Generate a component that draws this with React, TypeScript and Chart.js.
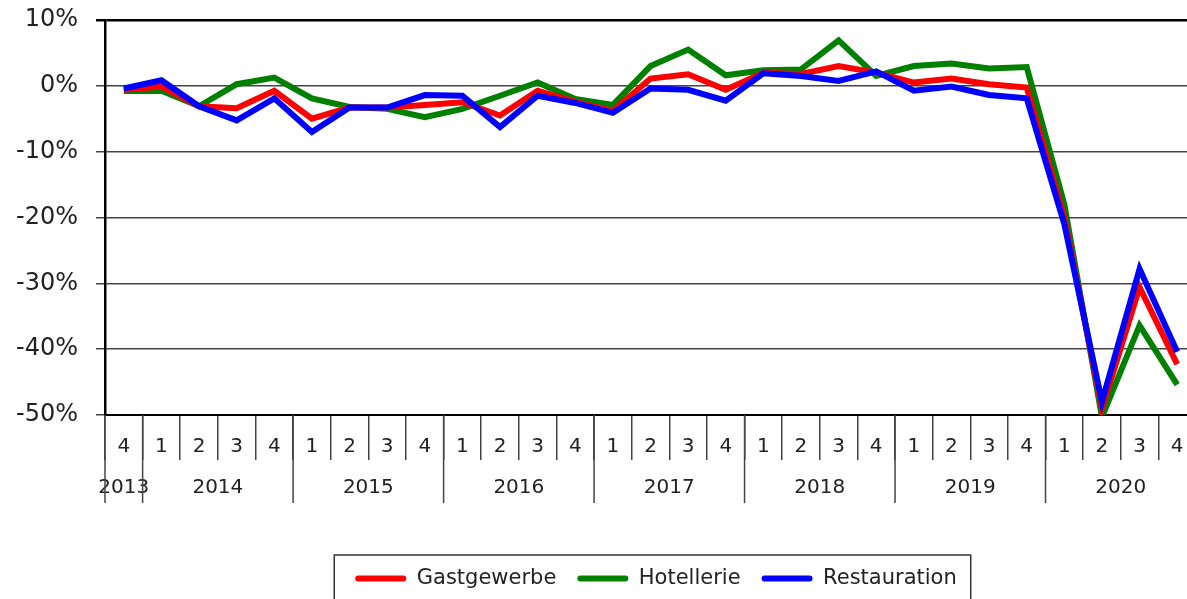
import React, { useEffect, useRef } from 'react';
import { Chart, registerables } from 'chart.js';

Chart.register(...registerables);

const quarters = ['4', '1', '2', '3', '4', '1', '2', '3', '4', '1', '2', '3', '4', '1', '2', '3', '4', '1', '2', '3', '4', '1', '2', '3', '4', '1', '2', '3', '4'];
const years = ['2013', '2014', '2014', '2014', '2014', '2015', '2015', '2015', '2015', '2016', '2016', '2016', '2016', '2017', '2017', '2017', '2017', '2018', '2018', '2018', '2018', '2019', '2019', '2019', '2019', '2020', '2020', '2020', '2020'];

const gastgewerbe = [-0.6, -0.1, -3.1, -3.4, -0.75, -5.0, -3.3, -3.3, -2.9, -2.5, -4.5, -0.75, -2.4, -3.8, 1.1, 1.75, -0.6, 2.0, 1.8, 3.0, 2.0, 0.5, 1.1, 0.25, -0.25, -20, -49, -30.6, -42.3];
const hotellerie = [-0.8, -0.75, -3.1, 0.25, 1.25, -1.9, -3.2, -3.5, -4.75, -3.5, -1.5, 0.5, -2.0, -2.9, 3.0, 5.5, 1.6, 2.35, 2.5, 6.9, 1.5, 3.0, 3.4, 2.65, 2.85, -18, -50.3, -36.4, -45.4];
const restauration = [-0.4, 0.85, -3.1, -5.25, -1.9, -7.0, -3.3, -3.3, -1.4, -1.5, -6.25, -1.5, -2.6, -4.1, -0.4, -0.6, -2.25, 1.9, 1.5, 0.75, 2.2, -0.75, -0.1, -1.4, -1.9, -21, -48, -27.8, -40.4];

const seriesNames = ['Gastgewerbe', 'Hotellerie', 'Restauration'];
const seriesColors = ['#ff0000', '#008000', '#0000ff'];

const yMin = -50;
const yMax = 10;
const yStep = 10;

const FONT = 'DejaVu Sans';

const yearPlugin = {
  id: 'yearLabels',
  afterDraw(chart: any) {
    const xs = chart.scales.x;
    const ctx = chart.ctx;
    const half = (xs.getPixelForValue(1) - xs.getPixelForValue(0)) / 2;
    const top = xs.top;
    ctx.save();
    ctx.font = `20px "${FONT}"`;
    ctx.fillStyle = '#222';
    ctx.textAlign = 'center';
    ctx.textBaseline = 'middle';
    const seps: number[] = [];
    let start = 0;
    for (let i = 1; i <= years.length; i++) {
      if (i === years.length || years[i] !== years[start]) {
        const left = xs.getPixelForValue(start) - half;
        const right = xs.getPixelForValue(i - 1) + half;
        ctx.fillText(years[start], (left + right) / 2, top + 73);
        seps.push(left);
        start = i;
      }
    }
    ctx.strokeStyle = '#444';
    ctx.lineWidth = 1.5;
    for (const sx of seps) {
      ctx.beginPath();
      ctx.moveTo(sx, top);
      ctx.lineTo(sx, top + 88);
      ctx.stroke();
    }
    ctx.restore();
  },
};

const legendFramePlugin = {
  id: 'legendFrame',
  afterDraw(chart: any) {
    const lg = chart.legend;
    if (!lg || !lg.legendHitBoxes || !lg.legendHitBoxes.length) return;
    const boxes = lg.legendHitBoxes;
    const first = boxes[0];
    const last = boxes[boxes.length - 1];
    const left = first.left - 21;
    const right = last.left + last.width + 14;
    const top = lg.top + 8;
    const ctx = chart.ctx;
    ctx.save();
    ctx.strokeStyle = '#333';
    ctx.lineWidth = 1.5;
    ctx.strokeRect(left, top, right - left, chart.height + 20 - top);
    ctx.restore();
  },
};

export default function App() {
  const ref = useRef<HTMLCanvasElement | null>(null);

  useEffect(() => {
    if (!ref.current) return;
    Chart.defaults.font.family = FONT;
    const datasets = [gastgewerbe, hotellerie, restauration].map((d, i) => ({
      label: seriesNames[i],
      data: d,
      borderColor: seriesColors[i],
      backgroundColor: seriesColors[i],
      borderWidth: 6,
      pointRadius: 0,
      pointHoverRadius: 0,
      tension: 0,
      yAxisID: 'y',
      order: [1, 2, 0][i],
    }));

    const chart = new Chart(ref.current, {
      type: 'line',
      data: { labels: quarters, datasets },
      options: {
        animation: false,
        responsive: false,
        devicePixelRatio: 1,
        events: [],
        layout: { padding: { top: 20, left: 0, right: 0, bottom: 21 } },
        plugins: {
          tooltip: { enabled: false },
          legend: {
            position: 'bottom',
            labels: {
              boxWidth: 51,
              boxHeight: 6,
              padding: 21,
              useBorderRadius: true,
              borderRadius: 3,
              color: '#222',
              font: { size: 21, family: FONT },
              sort: (a: any, b: any) => a.datasetIndex - b.datasetIndex,
              generateLabels: (c: any) => {
                const items = Chart.defaults.plugins.legend.labels.generateLabels(c);
                return items.map((it: any) => ({ ...it, lineWidth: 0, fillStyle: seriesColors[it.datasetIndex] }));
              },
            },
          },
        },
        scales: {
          x: {
            type: 'category',
            offset: true,
            grid: {
              offset: true,
              drawOnChartArea: false,
              tickLength: 45,
              color: '#444',
              lineWidth: 1.5,
            },
            border: { color: '#000', width: 2 },
            ticks: {
              autoSkip: false,
              maxRotation: 0,
              minRotation: 0,
              padding: -25,
              color: '#222',
              font: { size: 20, family: FONT },
            },
            afterFit: (s: any) => {
              s.height = 132;
            },
          },
          y: {
            type: 'linear',
            position: 'left',
            min: yMin,
            max: yMax,
            grid: {
              color: (c: any) => (c.tick && c.tick.value === yMax ? '#000' : '#444'),
              lineWidth: (c: any) => (c.tick && c.tick.value === yMax ? 2.5 : 1.5),
              tickLength: 9,
            },
            border: { color: '#000', width: 2.5 },
            ticks: {
              stepSize: yStep,
              padding: 18,
              color: '#222',
              font: { size: 24, family: FONT },
              callback: (v: any) => `${v}%`,
            },
            afterFit: (s: any) => {
              s.width = 105;
              s.paddingTop = 0;
              s.paddingBottom = 0;
            },
          },
          yr: {
            type: 'linear',
            position: 'right',
            display: true,
            grid: { display: false, drawTicks: false },
            border: { display: false },
            ticks: { display: false },
            afterFit: (s: any) => {
              s.width = 116;
              s.paddingTop = 0;
              s.paddingBottom = 0;
            },
          },
        },
      },
      plugins: [yearPlugin, legendFramePlugin],
    } as any);

    return () => chart.destroy();
  }, []);

  return (
    <div style={{ position: 'absolute', left: 0, top: 0, width: 1187, height: 599, overflow: 'hidden', background: '#fff' }}>
      <canvas ref={ref} width={1312} height={620} style={{ width: 1312, height: 620, display: 'block' }} />
    </div>
  );
}
